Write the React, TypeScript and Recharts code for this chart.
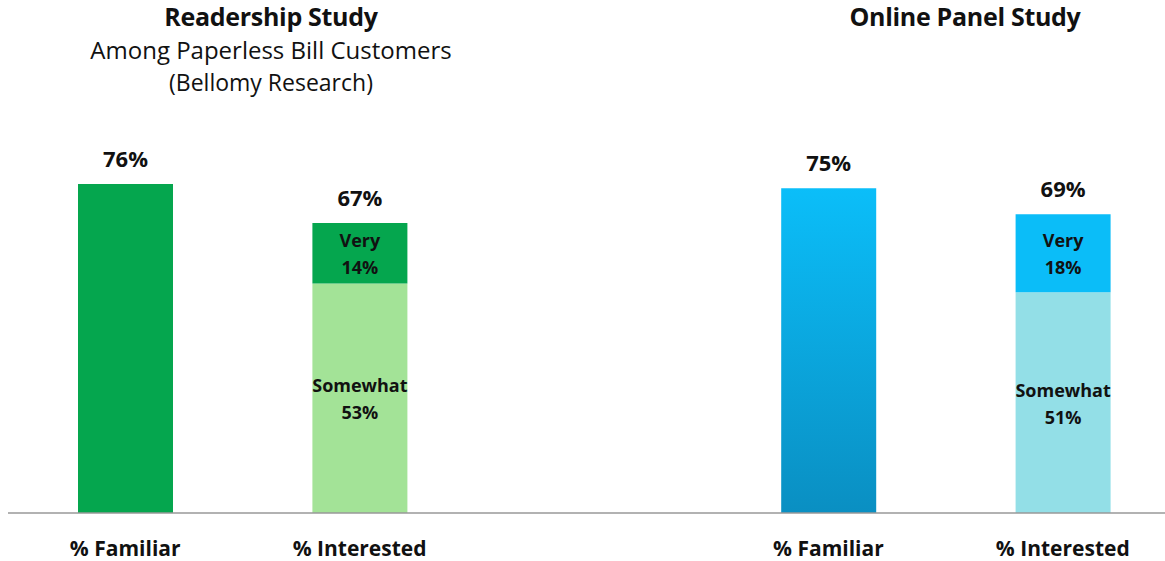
import { BarChart, Bar, XAxis, YAxis, Cell, LabelList } from 'recharts';

// categories (middle slot is an empty gap between the two studies)
const categoryKeys = ['r-fam', 'r-int', 'gap', 'o-fam', 'o-int'];
const categoryLabels = ['% Familiar', '% Interested', '', '% Familiar', '% Interested'];

// series values (percent)
const familiarValues = [76, null, null, 75, null];
const somewhatValues = [null, 53, null, null, 51];
const veryValues = [null, 14, null, null, 18];
const totalValues = [76, 67, null, 75, 69];

const familiarColors = ['#05A64E', '', '', 'url(#blueGrad)', ''];
const somewhatColors = ['', '#A3E397', '', '', '#93DFE7'];
const veryColors = ['', '#05A64E', '', '', '#0BBDF8'];

const data = categoryKeys.map((key, i) => ({
  key,
  label: categoryLabels[i],
  familiar: familiarValues[i],
  somewhat: somewhatValues[i],
  very: veryValues[i],
  total: totalValues[i],
}));

const FONT = '"Open Sans", Lato, sans-serif';

const TopLabel = (props: any) => {
  const { x, y, width, value } = props;
  if (value == null || x == null) return null;
  return (
    <text x={x + width / 2} y={y - 17} textAnchor="middle" fontFamily={FONT} fontWeight={700} fontSize={22} fill="#111">
      {value}%
    </text>
  );
};

const makeInner = (name: string) => (props: any) => {
  const { x, y, width, height, value } = props;
  if (value == null || x == null) return null;
  const cx = x + width / 2;
  const cy = y + height / 2;
  return (
    <text textAnchor="middle" fontFamily={FONT} fontWeight={700} fontSize={18} fill="#111">
      <tspan x={cx} y={cy - 6}>{name}</tspan>
      <tspan x={cx} y={cy + 21}>{value}%</tspan>
    </text>
  );
};

const Tick = (props: any) => {
  const { x, y, index } = props;
  return (
    <text x={x} y={y + 35} textAnchor="middle" fontFamily={FONT} fontWeight={700} fontSize={21} fill="#111">
      {categoryLabels[index]}
    </text>
  );
};

export default function App() {
  return (
    <div style={{ position: 'absolute', left: 0, top: 0, width: 1165, height: 561, overflow: 'hidden', background: '#fff', fontFamily: FONT }}>
      <div style={{ position: 'absolute', left: 71, width: 400, top: 0, textAlign: 'center', color: '#111', lineHeight: '33px' }}>
        <div style={{ fontSize: 25, fontWeight: 700, letterSpacing: -0.3 }}>Readership Study</div>
        <div style={{ fontSize: 24 }}>Among Paperless Bill Customers</div>
        <div style={{ fontSize: 23 }}>(Bellomy Research)</div>
      </div>
      <div style={{ position: 'absolute', left: 765, width: 400, top: 0, textAlign: 'center', color: '#111', lineHeight: '33px', fontSize: 25, fontWeight: 700, letterSpacing: -0.3 }}>
        Online Panel Study
      </div>
      <BarChart
        width={1180}
        height={561}
        data={data}
        margin={{ top: 80, right: 0, left: 8, bottom: 0 }}
        barSize={95}
        style={{ position: 'absolute', left: 0, top: 0 }}
      >
        <defs>
          <linearGradient id="blueGrad" x1="0" y1="0" x2="0" y2="1">
            <stop offset="0%" stopColor="#0BBEF9" />
            <stop offset="100%" stopColor="#0A8FC2" />
          </linearGradient>
        </defs>
        <XAxis
          dataKey="key"
          height={48}
          axisLine={{ stroke: '#999', strokeWidth: 1.5 }}
          tickLine={false}
          tick={<Tick />}
          interval={0}
        />
        <YAxis hide domain={[0, 100]} />
        <Bar dataKey="familiar" stackId="a" isAnimationActive={false}>
          {data.map((d, i) => <Cell key={d.key} fill={familiarColors[i] || '#ccc'} />)}
          <LabelList dataKey="total" content={<TopLabel />} />
        </Bar>
        <Bar dataKey="somewhat" stackId="a" isAnimationActive={false}>
          {data.map((d, i) => <Cell key={d.key} fill={somewhatColors[i] || '#ccc'} />)}
          <LabelList dataKey="somewhat" content={makeInner('Somewhat')} />
        </Bar>
        <Bar dataKey="very" stackId="a" isAnimationActive={false}>
          {data.map((d, i) => <Cell key={d.key} fill={veryColors[i] || '#ccc'} />)}
          <LabelList dataKey="very" content={makeInner('Very')} />
          <LabelList dataKey="total" content={<TopLabel />} />
        </Bar>
      </BarChart>
    </div>
  );
}
